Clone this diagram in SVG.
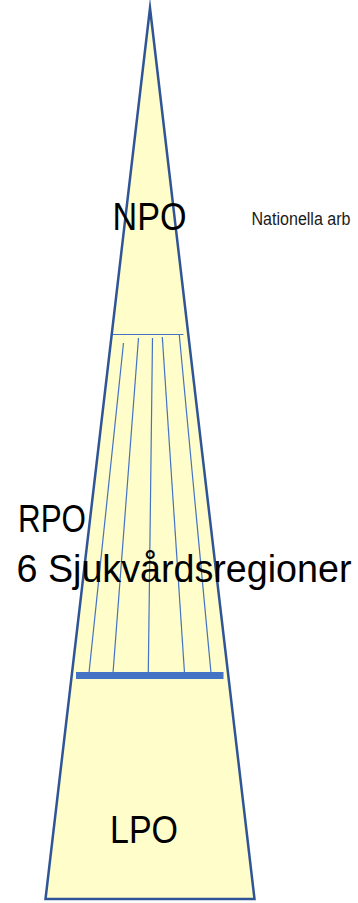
<svg xmlns="http://www.w3.org/2000/svg" width="358" height="903" viewBox="0 0 358 903">
<style>
.edge{fill:#FFFDCA;stroke:#2F5597;stroke-width:2.5;stroke-linejoin:miter;stroke-miterlimit:40}
.thin{stroke:#4472C4;stroke-width:1.2;fill:none}
.bar{stroke:#4472C4;stroke-width:7;fill:none}
.big{font-family:"Liberation Sans",Arial,sans-serif;font-size:38px;fill:#000}
.small{font-family:"Liberation Sans",Arial,sans-serif;font-size:17.5px;fill:#1a1a1a}
</style>
<rect width="358" height="903" fill="#fff"/>
<g id="pyramid">
<polygon class="edge" points="150,8 254.5,899 45.5,899"/>
</g>
<g id="connectors">
<line class="thin" x1="113" y1="334.5" x2="183.5" y2="334.5"/>
<line class="thin" x1="123.5" y1="343" x2="89" y2="673"/>
<line class="thin" x1="138.5" y1="338" x2="113" y2="673"/>
<line class="thin" x1="152.5" y1="338" x2="148.3" y2="673"/>
<line class="thin" x1="162.3" y1="337" x2="184.5" y2="673"/>
<line class="thin" x1="179.3" y1="335" x2="211" y2="673"/>
<line class="bar" x1="76" y1="675.5" x2="223.5" y2="675.5"/>
</g>
<g id="npo">
<text class="big" x="112.5" y="230" textLength="74" lengthAdjust="spacingAndGlyphs">NPO</text>
</g>
<g id="nationella">
<text class="small" x="251.5" y="225" textLength="99" lengthAdjust="spacingAndGlyphs">Nationella arb</text>
</g>
<g id="rpo">
<text class="big" x="18" y="531.5" textLength="68" lengthAdjust="spacingAndGlyphs">RPO</text>
<text class="big" x="16.5" y="581.5" textLength="335" lengthAdjust="spacingAndGlyphs">6 Sjukvårdsregioner</text>
</g>
<g id="lpo">
<text class="big" x="110" y="843" textLength="68" lengthAdjust="spacingAndGlyphs">LPO</text>
</g>
</svg>
